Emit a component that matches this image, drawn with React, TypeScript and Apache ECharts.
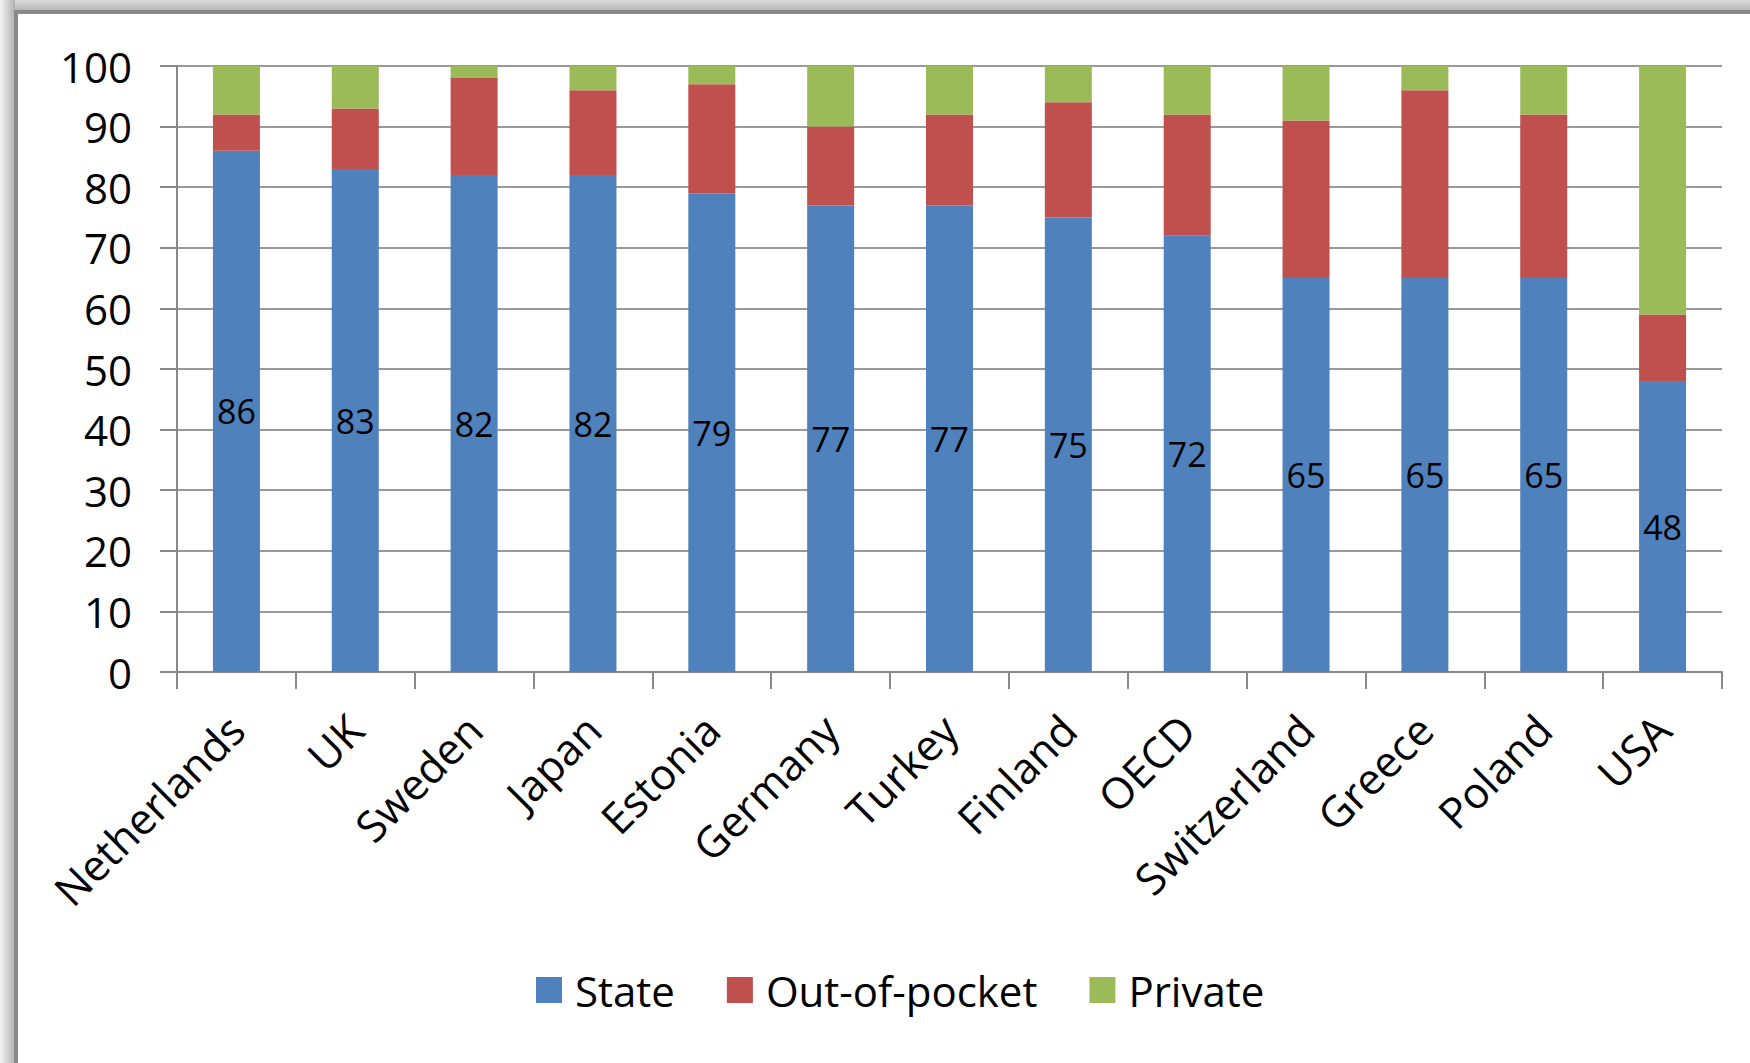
import React, { useEffect, useRef } from "react";
import * as echarts from "echarts";

// Health spending by source, % of total
const categories = [
  "Netherlands", "UK", "Sweden", "Japan", "Estonia", "Germany", "Turkey",
  "Finland", "OECD", "Switzerland", "Greece", "Poland", "USA",
];
const stateShare = [86, 83, 82, 82, 79, 77, 77, 75, 72, 65, 65, 65, 48];
const outOfPocketShare = [6, 10, 16, 14, 18, 13, 15, 19, 20, 26, 31, 27, 11];
const privateShare = [8, 7, 2, 4, 3, 10, 8, 6, 8, 9, 4, 8, 41];
const seriesNames = ["State", "Out-of-pocket", "Private"];
const yTicks = { min: 0, max: 100, interval: 10 };

const FONT = "'Open Sans', 'Noto Sans', sans-serif";
const COLORS = ["#4F81BD", "#C0504D", "#9BBB59"];

export default function App() {
  const ref = useRef<HTMLDivElement>(null);

  useEffect(() => {
    if (!ref.current) return;
    const chart = echarts.init(ref.current, undefined, { renderer: "svg" });

    const makeBar = (name: string, data: number[], color: string, withLabel: boolean) => ({
      name,
      type: "bar",
      stack: "total",
      data,
      barWidth: 47,
      itemStyle: { color },
      label: withLabel
        ? { show: true, position: "inside", color: "#000", fontSize: 34, fontFamily: FONT }
        : { show: false },
    });

    chart.setOption({
      animation: false,
      backgroundColor: "#fff",
      textStyle: { fontFamily: FONT },
      graphic: [
        // soft shadow along the top and left of the frame
        {
          type: "rect",
          shape: { x: 0, y: 0, width: 1750, height: 11 },
          style: {
            fill: new echarts.graphic.LinearGradient(0, 0, 0, 1, [
              { offset: 0, color: "#dcdcdc" },
              { offset: 1, color: "#b4b4b4" },
            ]),
          },
          silent: true,
        },
        {
          type: "rect",
          shape: { x: 0, y: 0, width: 15, height: 1063 },
          style: {
            fill: new echarts.graphic.LinearGradient(0, 0, 1, 0, [
              { offset: 0, color: "#f2f2f2" },
              { offset: 1, color: "#b0b0b0" },
            ]),
          },
          silent: true,
        },
        {
          type: "rect",
          shape: { x: 16, y: 12, width: 1800, height: 1200 },
          style: { fill: "none", stroke: "#8a8a8a", lineWidth: 4 },
          silent: true,
        },
      ],
      grid: { left: 177, right: 28, top: 66, bottom: 391, containLabel: false },
      legend: {
        data: seriesNames,
        left: 531,
        top: 964,
        icon: "rect",
        itemWidth: 26,
        itemHeight: 26,
        itemGap: 52,
        textStyle: { fontSize: 42, color: "#000", fontFamily: FONT, padding: [0, 0, 0, 8] },
      },
      xAxis: {
        type: "category",
        data: categories,
        axisLine: { lineStyle: { color: "#888", width: 2 } },
        axisTick: { show: true, length: 17, lineStyle: { color: "#888", width: 2 } },
        axisLabel: {
          rotate: 45,
          interval: 0,
          margin: 50,
          fontSize: 43,
          color: "#000",
          fontFamily: FONT,
        },
      },
      yAxis: {
        type: "value",
        min: yTicks.min,
        max: yTicks.max,
        interval: yTicks.interval,
        axisLine: { show: true, lineStyle: { color: "#888", width: 2 } },
        axisTick: { show: true, length: 17, lineStyle: { color: "#888", width: 2 } },
        splitLine: { show: true, lineStyle: { color: "#999", width: 2 } },
        axisLabel: { fontSize: 42, color: "#000", margin: 45, fontFamily: FONT },
      },
      series: [
        makeBar(seriesNames[0], stateShare, COLORS[0], true),
        makeBar(seriesNames[1], outOfPocketShare, COLORS[1], false),
        makeBar(seriesNames[2], privateShare, COLORS[2], false),
      ],
    });

    return () => chart.dispose();
  }, []);

  return (
    <div
      ref={ref}
      style={{ position: "fixed", left: 0, top: 0, width: 1750, height: 1063 }}
    />
  );
}
